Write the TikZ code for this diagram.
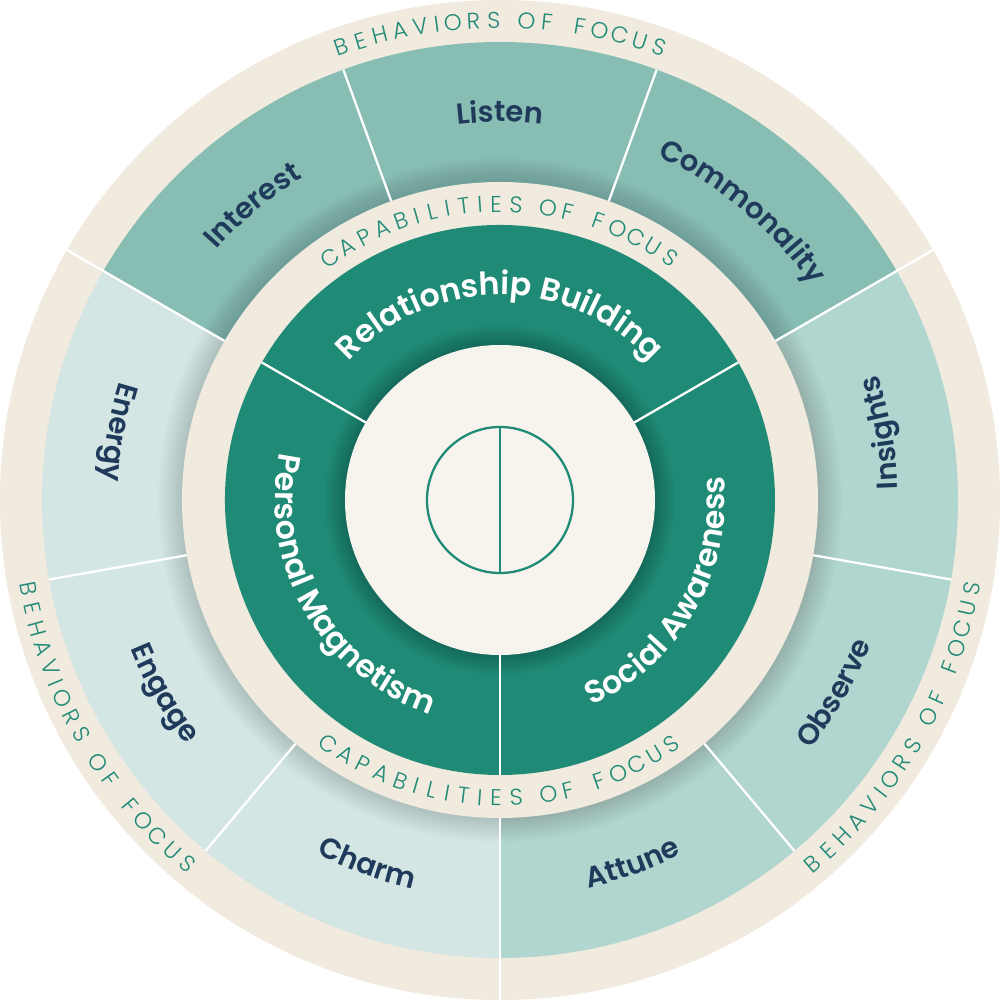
\documentclass[tikz,border=0pt]{standalone}
\usepackage{fontspec}
\setmainfont{Poppins}
\newfontfamily\labelfont{Poppins SemiBold}
\newfontfamily\trackfont{Poppins Light}
\usetikzlibrary{decorations.text}
\definecolor{sand}{RGB}{240,234,223}
\definecolor{cream}{RGB}{247,244,238}
\definecolor{pine}{RGB}{31,138,118}
\definecolor{sage}{RGB}{135,189,179}
\definecolor{mint}{RGB}{177,213,207}
\definecolor{frost}{RGB}{212,230,227}
\definecolor{navyink}{RGB}{32,58,92}
\tikzset{
  divider/.style={draw=white,line width=1.3pt},
  ringletter/.style={font=\trackfont\fontsize{13}{15}\selectfont,text=pine,inner sep=0pt},
  soft shadow/.style={fill=black,opacity=#1},
  soft shadow/.default=0.012,
  behav label/.style={decorate,decoration={text along path,text align=center,
    text color=navyink,text={|\labelfont\fontsize{16.5}{18}\selectfont|#1}}},
  capab label/.style={decorate,decoration={text along path,text align=center,
    text color=white,text={|\labelfont\fontsize{18}{20}\selectfont|#1}}},
}

\begin{document}
\begin{tikzpicture}[x=0.2mm,y=0.2mm]
  \useasboundingbox (-500,-500) rectangle (500,500);
  % outer band
  \fill[sand] (0,0) circle (500);
  % behaviors ring
  \foreach \t/\c/\col/\d in {Listen/90/sage/1, Commonality/50/sage/1, Insights/10/mint/-1,
      Observe/-30/mint/-1, Attune/-70/mint/-1, Charm/-110/frost/-1, Engage/-150/frost/-1,
      Energy/170/frost/-1, Interest/130/sage/1}
    \fill[\col] (0,0) -- (\c-20:458) arc[start angle=\c-20,end angle=\c+20,radius=458] -- cycle;
  \foreach \k in {1,...,12} {
    \pgfmathsetmacro{\rs}{318+2*\k}
    \fill[soft shadow] (0,0) circle (\rs);
  }
  \foreach \a in {110,70,-10,-50,-130,-170} \draw[divider] (\a:318) -- (\a:458);
  \foreach \a in {30,150,270} \draw[divider] (\a:318) -- (\a:500);
  \foreach \t/\c/\d in {Listen/90/1, Commonality/50/1, Insights/10/-1, Observe/-30/-1,
      Attune/-70/-1, Charm/-110/-1, Engage/-150/-1, Energy/170/-1, Interest/130/1} {
    \pgfmathsetmacro{\sa}{\c+20*\d}
    \pgfmathsetmacro{\ea}{\c-20*\d}
    \pgfmathsetmacro{\rr}{388-10*\d}
    \path[behav label=\t] (\sa:\rr) arc[start angle=\sa,end angle=\ea,radius=\rr];
  }
  % capabilities ring
  \fill[sand] (0,0) circle (318);
  \foreach \c in {90,-30,210}
    \fill[pine] (0,0) -- (\c-60:275) arc[start angle=\c-60,end angle=\c+60,radius=275] -- cycle;
  \foreach \k in {1,...,10} {
    \pgfmathsetmacro{\rs}{155+2*\k}
    \fill[soft shadow=0.018] (0,0) circle (\rs);
  }
  \foreach \a in {30,150,270} \draw[divider] (\a:155) -- (\a:275);
  \foreach \t/\c/\d in {Relationship Building/90/1, Social Awareness/-30/-1, Personal Magnetism/210/-1} {
    \pgfmathsetmacro{\sa}{\c+60*\d}
    \pgfmathsetmacro{\ea}{\c-60*\d}
    \pgfmathsetmacro{\rr}{215-10*\d}
    \path[capab label=\t] (\sa:\rr) arc[start angle=\sa,end angle=\ea,radius=\rr];
  }
  % centre
  \fill[cream] (0,0) circle (155);
  \draw[pine,line width=1.3pt] (0,0) circle (73);
  \draw[pine,line width=1.3pt] (90:73) -- (270:73);
  % tracked ring titles
  \foreach \ch/\p [count=\i] in {B/0,E/1,H/2,A/3,V/4,I/4.8,O/5.6,R/6.6,S/7.6,
      O/9.2,F/10.2,F/11.8,O/12.8,C/13.8,U/14.8,S/15.8} {
    \pgfmathsetmacro{\a}{90+(7.9-\p)*2.45}
    \node[ringletter,rotate=\a-90] (bt\i) at (\a:480) {\ch};
    \foreach \c in {210,330} {
      \pgfmathsetmacro{\b}{\c+(\p-7.9)*2.45}
      \node[ringletter,rotate=\b+90] (b\c-\i) at (\b:480) {\ch};
    }
  }
  \foreach \ch/\p [count=\i] in {C/0,A/1,P/2,A/3,B/4,I/4.8,L/5.6,I/6.4,T/7.2,I/8,E/8.8,S/9.8,
      O/11.4,F/12.4,F/14,O/15,C/16,U/17,S/18} {
    \pgfmathsetmacro{\a}{90+(9-\p)*3.9}
    \node[ringletter,rotate=\a-90] (ct\i) at (\a:296) {\ch};
    \pgfmathsetmacro{\b}{270+(\p-9)*3.9}
    \node[ringletter,rotate=\b+90] (cb\i) at (\b:298) {\ch};
  }
\end{tikzpicture}
\end{document}
